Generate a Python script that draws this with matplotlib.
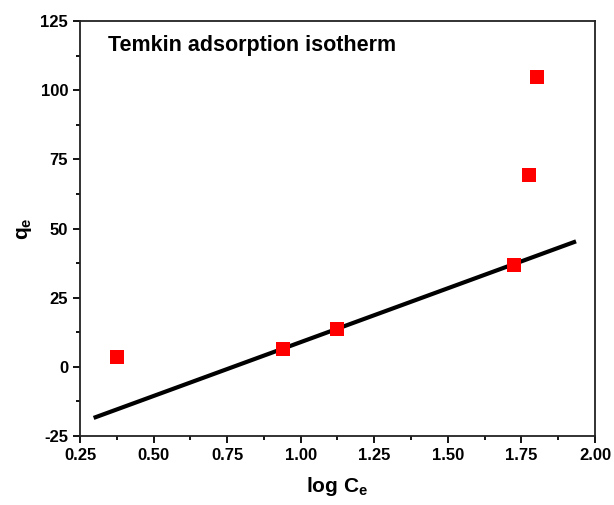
import matplotlib
matplotlib.use("Agg")
import matplotlib.pyplot as plt
from matplotlib.ticker import MultipleLocator

log_ce = [0.377, 0.940, 1.122, 1.725, 1.777, 1.803]
qe = [3.5, 6.6, 13.7, 36.8, 69.3, 104.9]
fit_x = [0.303, 1.929]
fit_y = [-18.2, 45.1]

plt.rcParams['font.family'] = ['Liberation Sans', 'DejaVu Sans']
plt.rcParams['font.weight'] = 'bold'
plt.rcParams['axes.unicode_minus'] = False
plt.rcParams['mathtext.default'] = 'bf'
plt.rcParams['mathtext.fontset'] = 'custom'
plt.rcParams['mathtext.bf'] = 'Liberation Sans:bold'
plt.rcParams['mathtext.rm'] = 'Liberation Sans:bold'

fig = plt.figure(figsize=(6.14, 5.05), dpi=100)
ax = fig.add_axes([0.1303, 0.1366, 0.8387, 0.8218])

ax.plot(fit_x, fit_y, color='black', lw=3, zorder=2)
ax.plot(log_ce, qe, 's', color='#ff0000', markersize=9.5, markeredgewidth=0, zorder=3)

ax.set_xlim(0.25, 2.00)
ax.set_ylim(-25, 125)
ax.xaxis.set_minor_locator(MultipleLocator(0.125))
ax.yaxis.set_major_locator(MultipleLocator(25))
ax.yaxis.set_minor_locator(MultipleLocator(12.5))
ax.set_xticks([0.25, 0.5, 0.75, 1.0, 1.25, 1.5, 1.75, 2.0])
ax.set_xticklabels(['0.25', '0.50', '0.75', '1.00', '1.25', '1.50', '1.75', '2.00'])
ax.tick_params(which='major', direction='out', length=5, width=1.3, labelsize=12)
ax.tick_params(which='minor', direction='out', length=3, width=1.3)
for s in ax.spines.values():
    s.set_linewidth(1.3)
    s.set_color('#222222')
for lab in ax.get_xticklabels() + ax.get_yticklabels():
    lab.set_fontweight('bold')

ax.set_xlabel(r'log C$_\mathbf{e}$', fontsize=15, fontweight='bold', labelpad=9)
ax.set_ylabel(r'q$_\mathbf{e}$', fontsize=15, fontweight='bold', labelpad=5)

ax.text(0.055, 0.94, 'Temkin adsorption isotherm', transform=ax.transAxes,
        fontsize=15.5, fontweight='bold', va='center', ha='left')

fig.savefig('out.png', dpi=100)
